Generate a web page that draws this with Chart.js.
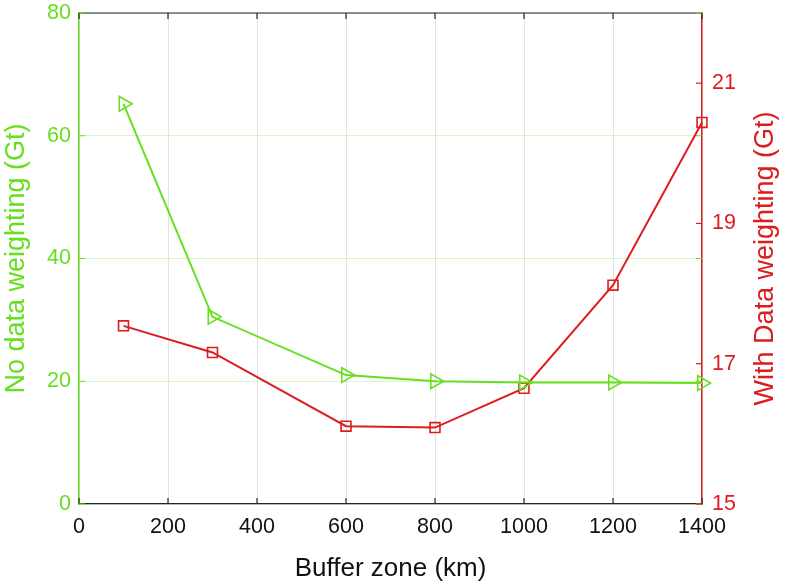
<!DOCTYPE html>
<html>
<head>
<meta charset="utf-8">
<script src="https://cdn.jsdelivr.net/npm/chart.js@4/dist/chart.umd.min.js"></script>
<style>
html,body{margin:0;padding:0;background:#fff;}
#wrap{width:786px;height:584px;}
</style>
</head>
<body>
<div id="wrap"><canvas id="c" width="786" height="584"></canvas></div>
<script>
const bufferZone = [100, 300, 600, 800, 1000, 1200, 1400];
const noWeighting = [65.2, 30.5, 21.0, 20.0, 19.8, 19.8, 19.7];
const withWeighting = [17.54, 17.16, 16.11, 16.09, 16.65, 18.12, 20.44];
const xTicks = [0, 200, 400, 600, 800, 1000, 1200, 1400];
const leftTicks = [0, 20, 40, 60, 80];
const rightTicks = [15, 17, 19, 21];
const rightTitle = 'With Data weighting (Gt)';

const GREEN = '#66e01e';
const RED = '#dc1c1f';
const FONT = 'Liberation Sans, Arial, Helvetica, sans-serif';
const TICK_SIZE = 21.5;
const TITLE_SIZE = 26;
const YTITLE_SIZE = 27;

const tickPlugin = {
  id: 'inwardTicks',
  afterDraw(chart) {
    const ctx = chart.ctx;
    const a = chart.chartArea;
    const x = chart.scales.x, yl = chart.scales.yL, yr = chart.scales.yR;
    const L = 6;
    ctx.save();
    ctx.lineWidth = 1.2;
    ctx.strokeStyle = '#262626';
    ctx.beginPath(); ctx.moveTo(a.left, a.top); ctx.lineTo(a.right, a.top); ctx.stroke();
    xTicks.forEach(v => {
      const px = x.getPixelForValue(v);
      ctx.beginPath();
      ctx.moveTo(px, a.bottom); ctx.lineTo(px, a.bottom - L);
      ctx.moveTo(px, a.top); ctx.lineTo(px, a.top + L);
      ctx.stroke();
    });
    ctx.strokeStyle = GREEN;
    leftTicks.forEach(v => {
      const py = yl.getPixelForValue(v);
      ctx.beginPath();
      ctx.moveTo(a.left, py); ctx.lineTo(a.left + L, py);
      ctx.moveTo(a.right, py); ctx.lineTo(a.right - L, py);
      ctx.stroke();
    });
    ctx.strokeStyle = RED;
    rightTicks.forEach(v => {
      const py = yr.getPixelForValue(v);
      ctx.beginPath();
      ctx.moveTo(a.right, py); ctx.lineTo(a.right - L, py);
      ctx.stroke();
    });
    ctx.fillStyle = RED;
    ctx.font = YTITLE_SIZE + 'px ' + FONT;
    ctx.textAlign = 'center';
    ctx.textBaseline = 'middle';
    ctx.translate(766, (a.top + a.bottom) / 2);
    ctx.rotate(-Math.PI / 2);
    ctx.fillText(rightTitle, 0, 0);
    ctx.restore();
  }
};

function noPad(s) { s.paddingTop = 0; s.paddingBottom = 0; }

new Chart(document.getElementById('c'), {
  type: 'line',
  data: {
    datasets: [
      {
        label: 'No data weighting',
        data: bufferZone.map((b, i) => ({x: b, y: noWeighting[i]})),
        yAxisID: 'yL',
        borderColor: GREEN,
        backgroundColor: 'rgba(0,0,0,0)',
        borderWidth: 2,
        pointStyle: 'triangle',
        pointRotation: 90,
        pointRadius: 8.5,
        pointBorderWidth: 1.6,
        pointBorderColor: GREEN,
        pointBackgroundColor: 'rgba(0,0,0,0)',
        tension: 0,
        clip: false
      },
      {
        label: 'With Data weighting',
        data: bufferZone.map((b, i) => ({x: b, y: withWeighting[i]})),
        yAxisID: 'yR',
        borderColor: RED,
        backgroundColor: 'rgba(0,0,0,0)',
        borderWidth: 2,
        pointStyle: 'rect',
        pointRadius: 7,
        pointBorderWidth: 1.6,
        pointBorderColor: RED,
        pointBackgroundColor: 'rgba(0,0,0,0)',
        tension: 0,
        clip: false
      }
    ]
  },
  options: {
    responsive: false,
    animation: false,
    layout: {padding: {top: 13, left: 0, right: 0, bottom: 0}},
    plugins: {legend: {display: false}, tooltip: {enabled: false}},
    scales: {
      x: {
        type: 'linear',
        min: 0, max: 1400,
        afterBuildTicks: s => { s.ticks = xTicks.map(v => ({value: v})); },
        afterFit: s => { s.height = 80; s.paddingLeft = 0; s.paddingRight = 0; },
        grid: {color: '#e3e3e3', lineWidth: 1, drawTicks: false},
        border: {color: '#262626', width: 1.2},
        ticks: {color: '#111', font: {family: FONT, size: TICK_SIZE}, padding: 10, maxRotation: 0, autoSkip: false,
                callback: v => String(v)},
        title: {display: true, text: 'Buffer zone (km)', color: '#111', font: {family: FONT, size: TITLE_SIZE}, padding: {top: 0, bottom: 0}}
      },
      yL: {
        type: 'linear', position: 'left',
        min: 0, max: 80,
        afterBuildTicks: s => { s.ticks = leftTicks.map(v => ({value: v})); },
        afterFit: s => { s.width = 79; noPad(s); },
        grid: {color: 'rgba(102,224,30,0.25)', lineWidth: 1, drawTicks: false},
        border: {color: GREEN, width: 1.5},
        ticks: {color: GREEN, font: {family: FONT, size: TICK_SIZE}, padding: 8},
        title: {display: true, text: 'No data weighting (Gt)', color: GREEN, font: {family: FONT, size: YTITLE_SIZE}, padding: {top: 0, bottom: 0}}
      },
      yR: {
        type: 'linear', position: 'right',
        min: 15, max: 22,
        afterBuildTicks: s => { s.ticks = rightTicks.map(v => ({value: v})); },
        afterFit: s => { s.width = 84; noPad(s); },
        grid: {display: false, drawTicks: false},
        border: {color: RED, width: 1.5},
        ticks: {color: RED, font: {family: FONT, size: TICK_SIZE}, padding: 10}
      }
    }
  },
  plugins: [tickPlugin]
});
</script>
</body>
</html>
